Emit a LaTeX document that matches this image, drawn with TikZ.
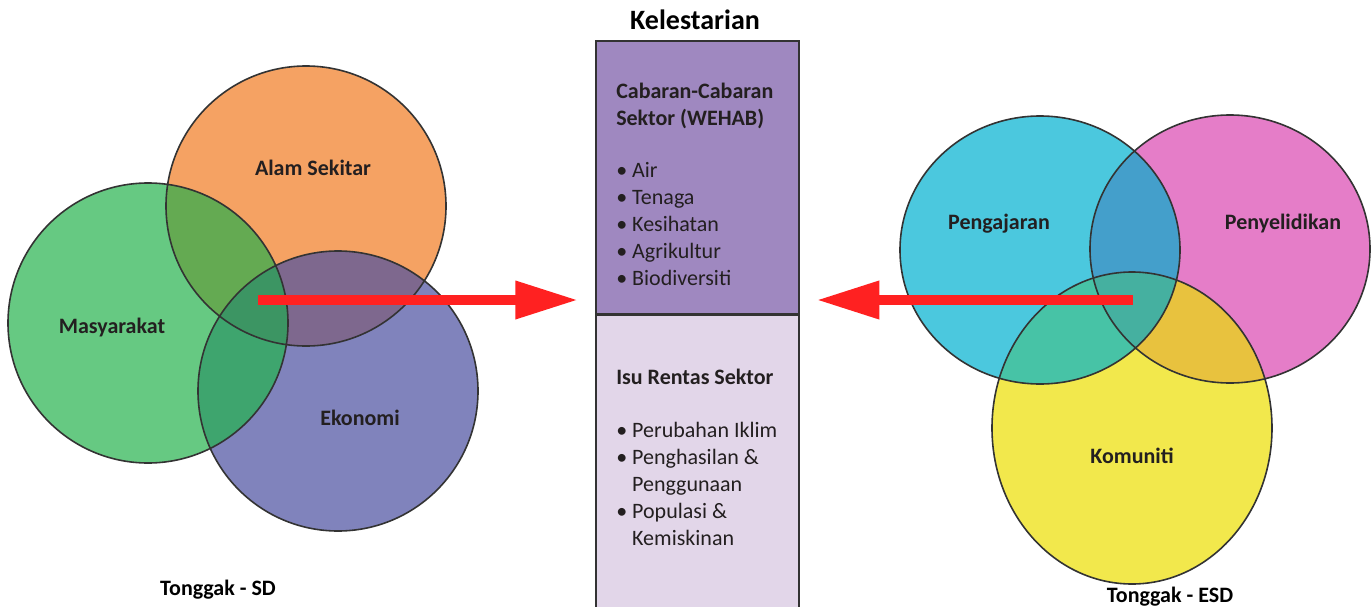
\documentclass[tikz,border=0pt]{standalone}
\usepackage{fontspec}
\setmainfont{Carlito}
\usetikzlibrary{arrows.meta}
\usetikzlibrary{positioning}
\usetikzlibrary{shapes.geometric}
\definecolor{ink}{HTML}{231F20}
\definecolor{rimgray}{HTML}{333333}
\definecolor{arrowred}{HTML}{FF2121}
% SD circles
\definecolor{sdgreen}{HTML}{66C982}
\definecolor{sdorange}{HTML}{F5A263}
\definecolor{sdpurple}{HTML}{8083BC}
\definecolor{sdgo}{HTML}{64AA52}
\definecolor{sdop}{HTML}{7E688E}
\definecolor{sdgp}{HTML}{3EA56E}
\definecolor{sdall}{HTML}{3C9563}
% ESD circles
\definecolor{esdcyan}{HTML}{4BC8DE}
\definecolor{esdpink}{HTML}{E57DC8}
\definecolor{esdyellow}{HTML}{F2E84C}
\definecolor{esdcp}{HTML}{449FCB}
\definecolor{esdcy}{HTML}{47C3A6}
\definecolor{esdpy}{HTML}{E8C23E}
\definecolor{esdall}{HTML}{45B0A0}
% box
\definecolor{wehabfill}{HTML}{9F88C0}
\definecolor{isufill}{HTML}{E2D6E9}

\begin{document}
\begin{tikzpicture}[x=0.75pt,y=-0.75pt,
			ring/.style={circle,minimum size=210pt,inner sep=0pt},
			oval/.style={ellipse,minimum width=210pt,inner sep=0pt},
			rim/.style={draw=rimgray,line width=1.2pt},
			lbl/.style={font=\fontsize{16.5}{20}\selectfont\bfseries,text=ink},
			items/.style={font=\fontsize{16.5}{20.1}\selectfont,text=ink,align=left,anchor=base west,inner sep=0pt},
			panel/.style={draw=rimgray,line width=1.2pt,minimum width=152.25pt,anchor=north west,inner sep=0pt},
			bigarrow/.style={draw=arrowred,fill=arrowred,line width=7.5pt,shorten >=12.75pt,-{Triangle[length=47pt,width=27pt]}}]
			\useasboundingbox (0,0) rectangle (1372,607);
			
			% Tonggak - SD
			\node[ring, fill=sdorange] (alam) at (306,206) {};
			\node[ring, fill=sdgreen]  (masy) at (148,323) {};
			\node[ring, fill=sdpurple] (eko)  at (338,391) {};
			\begin{scope}
				\clip (alam.center) circle[radius=105pt];
				\fill[sdop] (eko.center) circle[radius=105pt];
			\end{scope}
			\begin{scope}
				\clip (masy.center) circle[radius=105pt];
				\fill[sdgo] (alam.center) circle[radius=105pt];
				\fill[sdgp] (eko.center) circle[radius=105pt];
				\clip (alam.center) circle[radius=105pt];
				\fill[sdall] (eko.center) circle[radius=105pt];
			\end{scope}
			\draw[rim] (alam.center) circle[radius=105pt]
				(masy.center) circle[radius=105pt]
				(eko.center) circle[radius=105pt];
			
			% Tonggak - ESD
			\node[oval, minimum height=201pt, fill=esdcyan] (ajar)  at (1040,250) {};
			\node[oval, minimum height=201pt, fill=esdpink] (selid) at (1230,249) {};
			\node[oval, minimum height=234pt, fill=esdyellow] (komun) at (1132,428) {};
			\begin{scope}
				\clip (selid.center) ellipse[x radius=105pt, y radius=100.5pt];
				\fill[esdpy] (komun.center) ellipse[x radius=105pt, y radius=117pt];
			\end{scope}
			\begin{scope}
				\clip (ajar.center) ellipse[x radius=105pt, y radius=100.5pt];
				\fill[esdcp] (selid.center) ellipse[x radius=105pt, y radius=100.5pt];
				\fill[esdcy] (komun.center) ellipse[x radius=105pt, y radius=117pt];
				\clip (selid.center) ellipse[x radius=105pt, y radius=100.5pt];
				\fill[esdall] (komun.center) ellipse[x radius=105pt, y radius=117pt];
			\end{scope}
			\draw[rim] (ajar.center) ellipse[x radius=105pt, y radius=100.5pt]
				(selid.center) ellipse[x radius=105pt, y radius=100.5pt]
				(komun.center) ellipse[x radius=105pt, y radius=117pt];
			
			% Kelestarian
			\node[panel, fill=wehabfill, minimum height=204.75pt] (wehab) at (595,40) {};
			\node[panel, fill=isufill, minimum height=222.75pt] (isu) at (wehab.south west) {};
			\node[font=\fontsize{21}{25}\selectfont\bfseries, text=black] (title) at (695,20) {Kelestarian};
			% base anchor sits on the last line
			\node[items, font=\fontsize{16.5}{20.1}\selectfont\bfseries] (wehabhead) at (616,125) {Cabaran-Cabaran\\Sektor (WEHAB)};
			\node[items] (wehablist) at (616,285) {• Air\\• Tenaga\\• Kesihatan\\• Agrikultur\\• Biodiversiti};
			\node[items, font=\fontsize{16.5}{20.1}\selectfont\bfseries] (isuhead) at (616,384) {Isu Rentas Sektor};
			\node[items] (isulist) at (616,545) {• Perubahan Iklim\\• Penghasilan \&\\\hphantom{• }Penggunaan\\• Populasi \&\\\hphantom{• }Kemiskinan};
			
			% arrows
			\coordinate (sdhub) at (258,300);
			\coordinate (esdhub) at (1133,300);
			\draw[bigarrow] (sdhub) -- (wehab.west |- sdhub);
			\draw[bigarrow] (esdhub) -- (wehab.east |- esdhub);
			
			% labels
			\node[lbl] (alamtxt)  at (313,168) {Alam Sekitar};
			\node[lbl] (masytxt)  at (112,328) {Masyarakat};
			\node[lbl] (ekotxt)   at (360,418) {Ekonomi};
			\node[lbl] (ajartxt)  at (999,224) {Pengajaran};
			\node[lbl] (selidtxt) at (1283,224) {Penyelidikan};
			\node[lbl] (komuntxt) at (1132,456) {Komuniti};
			\node[lbl, text=black] (sdtxt)  at (218,590) {Tonggak - SD};
			\node[lbl, text=black] (esdtxt) at (1170,597) {Tonggak - ESD};
\end{tikzpicture}
\end{document}
